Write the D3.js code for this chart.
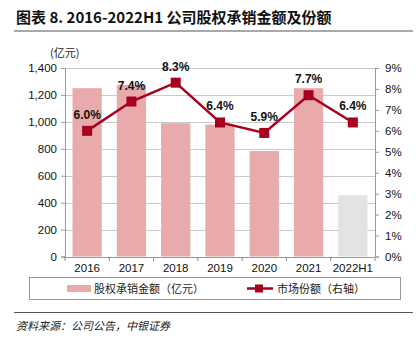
<!DOCTYPE html>
<html>
<head>
<meta charset="utf-8">
<script src="https://cdn.jsdelivr.net/npm/d3@7"></script>
<style>
  body { margin: 0; background: #fff; }
  svg { display: block; font-family: "Liberation Sans", Arial, sans-serif; }
</style>
</head>
<body>
<div id="chart"></div>
<script>
// chart values
const years = ["2016", "2017", "2018", "2019", "2020", "2021", "2022H1"];
const amounts = [1250, 1275, 990, 980, 783, 1250, 455];
const shares = [6.0, 7.4, 8.3, 6.4, 5.9, 7.7, 6.4];
const leftTicks = [0, 200, 400, 600, 800, 1000, 1200, 1400];
const rightTicks = [0, 1, 2, 3, 4, 5, 6, 7, 8, 9];

const width = 416;
const height = 342;
const margin = { top: 68, right: 41, bottom: 85, left: 65 };

const svg = d3.select("#chart")
  .append("svg")
  .attr("width", width)
  .attr("height", height);

const cjk = "'Noto Sans CJK SC', sans-serif";

// title
svg.append("text")
  .attr("x", 16)
  .attr("y", 23)
  .style("font-size", "15px")
  .style("font-weight", "bold")
  .style("font-family", cjk)
  .style("fill", "#111")
  .text("图表 8. 2016-2022H1 公司股权承销金额及份额");

svg.append("line")
  .attr("x1", 14).attr("x2", 413)
  .attr("y1", 31).attr("y2", 31)
  .attr("stroke", "#555").attr("stroke-width", 1.2);

const x = d3.scaleBand()
  .domain(years)
  .range([margin.left, width - margin.right])
  .paddingInner(0.34)
  .paddingOuter(0.17);

const y = d3.scaleLinear()
  .domain([0, 1400])
  .range([height - margin.bottom - 0.5, margin.top]);

const y2 = d3.scaleLinear()
  .domain([0, 9])
  .range([height - margin.bottom - 0.5, margin.top]);

// gridlines
svg.append("g")
  .selectAll("line")
  .data(leftTicks.slice(1))
  .enter()
  .append("line")
  .attr("x1", margin.left)
  .attr("x2", width - margin.right)
  .attr("y1", d => Math.round(y(d)) + 0.5)
  .attr("y2", d => Math.round(y(d)) + 0.5)
  .attr("stroke", "#bdbdbd")
  .attr("stroke-width", 0.8);

// bars
svg.append("g")
  .selectAll("rect")
  .data(years)
  .enter()
  .append("rect")
  .attr("x", d => x(d))
  .attr("y", (d, i) => y(amounts[i]))
  .attr("width", x.bandwidth())
  .attr("height", (d, i) => y(0) - y(amounts[i]))
  .attr("fill", (d, i) => i === years.length - 1 ? "#e3e3e3" : "#e8aaaa");

// left axis
const yAxis = svg.append("g")
  .attr("transform", `translate(${margin.left},0)`)
  .call(d3.axisLeft(y).tickValues(leftTicks).tickFormat(d3.format(",")).tickSize(4).tickPadding(4));

// right axis
const y2Axis = svg.append("g")
  .attr("transform", `translate(${width - margin.right},0)`)
  .call(d3.axisRight(y2).tickValues(rightTicks).tickFormat(d => d + "%").tickSize(4).tickPadding(6));

// bottom axis with ticks between categories
const xAxis = svg.append("g")
  .attr("transform", `translate(0,${height - margin.bottom})`)
  .call(d3.axisBottom(x).tickSize(0).tickPadding(7));

const step = x.step();
xAxis.selectAll(".sep")
  .data(d3.range(years.length + 1))
  .enter()
  .append("line")
  .attr("class", "sep")
  .attr("x1", i => margin.left + i * step)
  .attr("x2", i => margin.left + i * step)
  .attr("y1", 0)
  .attr("y2", 4)
  .attr("stroke", "#888");

[yAxis, y2Axis, xAxis].forEach(g => {
  g.selectAll(".domain").attr("stroke", "#999");
  g.selectAll(".tick line").attr("stroke", "#999");
  g.selectAll("text").style("font-size", "11.5px").style("fill", "#111")
    .style("font-family", "'Liberation Sans', Arial, sans-serif");
});
xAxis.select(".domain").attr("d", `M${margin.left},0.5H${width - margin.right}`);

// unit label
svg.append("text")
  .attr("x", 50)
  .attr("y", 57)
  .style("font-size", "11px")
  .style("font-family", cjk)
  .style("fill", "#222")
  .text("(亿元)");

// share line
const cx = d => x(d) + x.bandwidth() / 2;
const line = d3.line()
  .x((d, i) => cx(years[i]))
  .y(d => y2(d));

svg.append("path")
  .datum(shares)
  .attr("d", line)
  .attr("fill", "none")
  .attr("stroke", "#a8001f")
  .attr("stroke-width", 2.5);

svg.append("g")
  .selectAll("rect")
  .data(shares)
  .enter()
  .append("rect")
  .attr("x", (d, i) => cx(years[i]) - 5)
  .attr("y", d => y2(d) - 5)
  .attr("width", 10)
  .attr("height", 10)
  .attr("fill", "#a8001f");

svg.append("g")
  .selectAll("text")
  .data(shares)
  .enter()
  .append("text")
  .attr("x", (d, i) => cx(years[i]))
  .attr("y", d => y2(d) - 12)
  .attr("text-anchor", "middle")
  .style("font-size", "12px")
  .style("font-weight", "bold")
  .style("fill", "#111")
  .text(d => d.toFixed(1) + "%");

// legend
svg.append("rect")
  .attr("x", 29.5).attr("y", 277.5)
  .attr("width", 371).attr("height", 22)
  .attr("fill", "none")
  .attr("stroke", "#999");

svg.append("rect")
  .attr("x", 67).attr("y", 285)
  .attr("width", 24).attr("height", 7)
  .attr("fill", "#e8aaaa");

svg.append("text")
  .attr("x", 94).attr("y", 293)
  .style("font-size", "11px")
  .style("font-family", cjk)
  .style("fill", "#222")
  .text("股权承销金额（亿元）");

svg.append("line")
  .attr("x1", 247).attr("x2", 273)
  .attr("y1", 288.5).attr("y2", 288.5)
  .attr("stroke", "#a8001f").attr("stroke-width", 2.5);

svg.append("rect")
  .attr("x", 255).attr("y", 284.5)
  .attr("width", 8).attr("height", 8)
  .attr("fill", "#a8001f");

svg.append("text")
  .attr("x", 277).attr("y", 293)
  .style("font-size", "11px")
  .style("font-family", cjk)
  .style("fill", "#222")
  .text("市场份额（右轴）");

// source
svg.append("line")
  .attr("x1", 14).attr("x2", 413)
  .attr("y1", 312.5).attr("y2", 312.5)
  .attr("stroke", "#555").attr("stroke-width", 1);

svg.append("text")
  .attr("x", 16).attr("y", 330)
  .style("font-size", "11px")
  .style("font-style", "italic")
  .style("font-family", cjk)
  .style("fill", "#222")
  .text("资料来源：公司公告，中银证券");
</script>
</body>
</html>
